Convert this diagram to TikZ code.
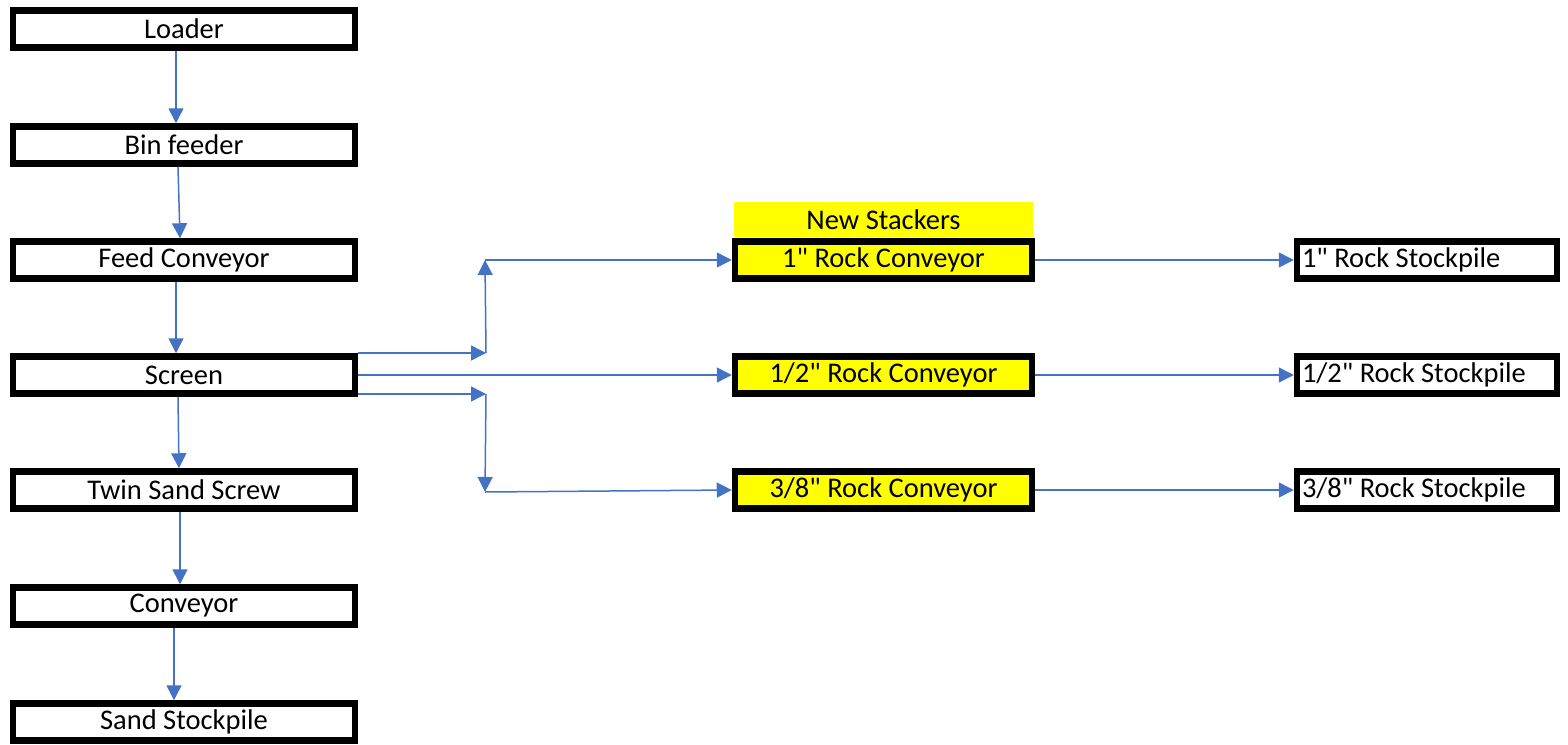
\documentclass[tikz,border=0pt]{standalone}
\usepackage{fontspec}
\setmainfont{Carlito}[Ligatures=TeXOff]
\usetikzlibrary{arrows.meta}
\definecolor{flowblue}{HTML}{4472C4}
\definecolor{stackyellow}{HTML}{FFFF00}
\begin{document}
\begin{tikzpicture}[x=1pt,y=-1pt,
  box/.style={draw=black, line width=6.5pt, fill=white, minimum width=342pt, minimum height=37pt,
    inner sep=0pt, font=\fontsize{28.5}{30}\selectfont},
  ybox/.style={box, fill=stackyellow, minimum width=297pt},
  sbox/.style={box, minimum width=260pt, text width=250pt, inner xsep=5pt, align=flush left},
  tag/.style={fill=stackyellow, minimum width=299pt, minimum height=35pt, inner sep=0pt,
    font=\fontsize{28.5}{30}\selectfont},
  arr/.style={draw=flowblue, line width=1.5pt, -{Triangle[length=15pt,width=15pt]}}]
\useasboundingbox (0,0) rectangle (1568,744);
% left column
\node[box] (loader) at (184,29) {Loader};
\node[box] (bin) at (184,145) {Bin feeder};
\node[box] (feed) at (184,260) {Feed Conveyor};
\node[box] (screen) at (184,375) {Screen};
\node[box] (twin) at (184,490) {Twin Sand Screw};
\node[box] (conv) at (184,606) {Conveyor};
\node[box] (sand) at (184,722) {Sand Stockpile};
% stackers
\node[tag] (newst) at (883.5,219.5) {New Stackers};
\node[ybox] (r1) at (883.5,260) {1" Rock Conveyor};
\node[ybox] (r2) at (883.5,375) {1/2" Rock Conveyor};
\node[ybox] (r3) at (883.5,490) {3/8" Rock Conveyor};
% stockpiles
\node[sbox] (s1) at (1427,260) {1" Rock Stockpile};
\node[sbox] (s2) at (1427,375) {1/2" Rock Stockpile};
\node[sbox] (s3) at (1427,490) {3/8" Rock Stockpile};
% junctions
\coordinate (j1) at (486,353);
\coordinate (j2) at (485,260);
\coordinate (j3) at (486,394);
\coordinate (j4) at (485,492);
% vertical flow
\draw[arr] ([xshift=-8pt]loader.south) -- ([xshift=-8pt]bin.north);
\draw[arr] ([xshift=-6pt]bin.south) -- ([xshift=-4pt]feed.north);
\draw[arr] ([xshift=-8pt]feed.south) -- ([xshift=-8pt]screen.north);
\draw[arr] ([xshift=-6pt]screen.south) -- ([xshift=-5pt]twin.north);
\draw[arr] ([xshift=-4pt]twin.south) -- ([xshift=-4pt]conv.north);
\draw[arr] ([xshift=-10pt]conv.south) -- ([xshift=-10pt]sand.north);
% screen branches
\draw[arr] ([yshift=22pt]screen.east) -- (j1);
\draw[arr] (j1) -- (j2);
\draw[arr] (j2) -- (r1.west);
\draw[arr] (screen.east) -- (r2.west);
\draw[arr] ([yshift=-19pt]screen.east) -- (j3);
\draw[arr] (j3) -- (j4);
\draw[arr] (j4) -- (r3.west);
% to stockpiles
\draw[arr] (r1.east) -- (s1.west);
\draw[arr] (r2.east) -- (s2.west);
\draw[arr] (r3.east) -- (s3.west);
\end{tikzpicture}
\end{document}
